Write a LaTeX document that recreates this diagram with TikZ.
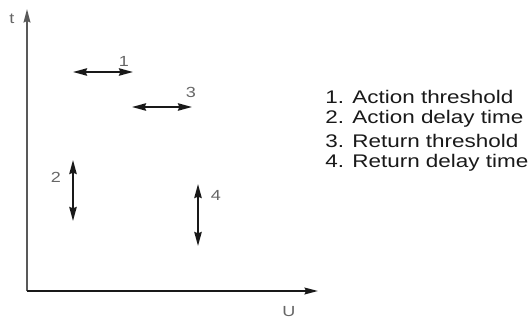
\documentclass[tikz,border=0pt]{standalone}
\usepackage{fontspec}
\setmainfont{Liberation Sans}
\newfontfamily\legfont[FakeStretch=1.23]{Liberation Sans}
\usepackage{tikz}
\usetikzlibrary{positioning,arrows.meta}

\begin{document}
\begin{tikzpicture}[
  x=0.75pt, y=-0.75pt,
  ax/.style={-{Stealth[length=10pt, width=5pt, inset=1pt]}, line width=1.5pt},
  dbl/.style={{Stealth[length=10.5pt, width=5.5pt, inset=1pt]}-{Stealth[length=10.5pt, width=5.5pt, inset=1pt]}, line width=1.5pt, black!90},
  num/.style={font=\legfont\fontsize{11}{13}\selectfont, text=black!60, inner sep=0pt},
  leg/.style={font=\legfont\fontsize{13.7}{16}\selectfont, text=black!90, anchor=west, inner sep=0pt},
]
\useasboundingbox (0,0) rectangle (532,321);
% --- axes ---
\coordinate (o) at (27,291);
\coordinate (ytip) at (27,9);
\coordinate (xtip) at (318,291);
\draw[ax, black!65] (o) -- (ytip);
\draw[ax, black!90] (o) -- (xtip);
\node[num] (lt) at (12,19) {t};
\node[num] (lu) at (289,312) {U};

% --- ranges ---
\coordinate (p1a) at (73,72);  \coordinate (p1b) at (133,72);
\coordinate (p3a) at (132,107); \coordinate (p3b) at (192,107);
\coordinate (p2a) at (73,160); \coordinate (p2b) at (73,221);
\coordinate (p4a) at (198,184); \coordinate (p4b) at (198,246);
\foreach \a/\b in {p1a/p1b,p3a/p3b,p2a/p2b,p4a/p4b} \draw[dbl] (\a) -- (\b);
\node[num] (n1) at (124,61)  {1};
\node[num] (n3) at (191,92)  {3};
\node[num] (n2) at (56,177)  {2};
\node[num] (n4) at (216,195) {4};

% --- legend ---
\node[leg] (l1) at (325,97)  {1. Action threshold};
\node[leg] (l2) at (325,119) {2. Action delay time};
\node[leg] (l3) at (325,141) {3. Return threshold};
\node[leg] (l4) at (325,163) {4. Return delay time};
\end{tikzpicture}
\end{document}
